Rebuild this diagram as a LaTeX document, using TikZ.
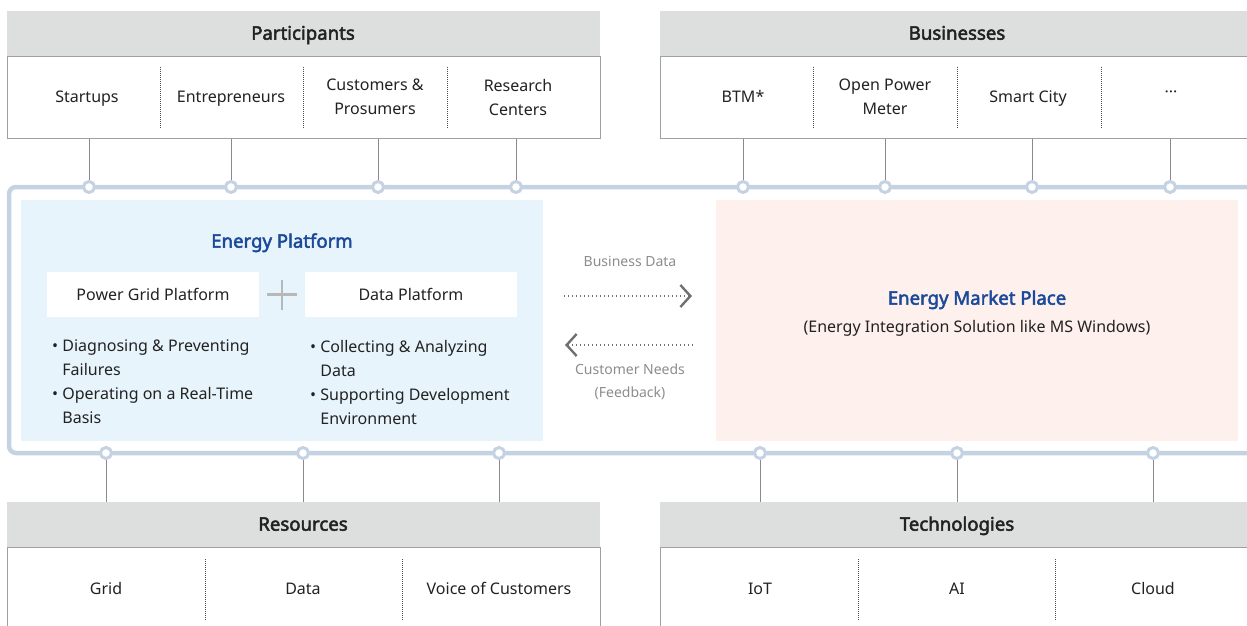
\documentclass[tikz,border=0pt]{standalone}
\usepackage{fontspec}
\setmainfont{Noto Sans}[AutoFakeBold=2.6]
\usetikzlibrary{arrows.meta}
\definecolor{hdr}{HTML}{DDDEDE}
\definecolor{bord}{HTML}{A0A0A0}
\definecolor{txt}{HTML}{222222}
\definecolor{ttl}{HTML}{1B4A9A}
\definecolor{eplight}{HTML}{E8F4FC}
\definecolor{mkpink}{HTML}{FEF0EC}
\definecolor{frm}{HTML}{C4D2E2}
\definecolor{conn}{HTML}{8A8A8A}
\definecolor{agray}{HTML}{707070}
\definecolor{lgray}{HTML}{8C8C8C}
\definecolor{plus}{HTML}{B8B8B8}
\tikzset{
  hdrbox/.style={fill=hdr, anchor=north west, inner sep=0pt},
  hdrtext/.style={text=txt, inner sep=0pt, text height=13.3pt, text depth=0pt,
    font=\fontsize{18.6}{22}\selectfont\bfseries},
  bodybox/.style={fill=white, draw=bord, line width=1pt, anchor=north west, inner sep=0pt},
  item/.style={text=txt, align=center, inner sep=0pt, font=\fontsize{16}{24}\selectfont},
  single/.style={text=txt, inner sep=0pt, text height=11.5pt, text depth=0pt,
    font=\fontsize{16}{24}\selectfont},
  divider/.style={draw=black!70, line width=0.6pt, dash pattern=on 0.8pt off 1.2pt},
  connline/.style={draw=conn, line width=1pt},
  frameline/.style={draw=frm, line width=4.5pt, rounded corners=7pt},
  ring/.style={circle, minimum size=11pt, inner sep=0pt, fill=white, draw=frm, line width=3pt},
  whitebox/.style={fill=white, anchor=north west, inner sep=0pt},
  bullets/.style={anchor=north west, align=left, inner sep=0pt, text=txt,
    font=\fontsize{16}{24}\selectfont},
  title/.style={text=ttl, inner sep=0pt, text height=13.3pt, text depth=0pt,
    font=\fontsize{18.6}{22}\selectfont\bfseries},
  graytext/.style={text=lgray, align=center, inner sep=0pt, font=\fontsize{14}{23}\selectfont},
  graysingle/.style={text=lgray, inner sep=0pt, text height=10pt, text depth=0pt,
    font=\fontsize{14}{23}\selectfont},
  dotarrow/.style={draw=agray, line width=1.6pt, dash pattern=on 1.4pt off 2.6pt,
    -{Straight Barb[length=10pt,width=22pt,line width=2.4pt]}},
}
\begin{document}
\begin{tikzpicture}[x=1pt,y=-1pt]
\useasboundingbox (0,0) rectangle (1247,626);
\clip (0,0) rectangle (1247,626);

% ---------- Participants ----------
\node[hdrbox, minimum width=593pt, minimum height=45pt] (phdr) at (7,11) {};
\node[hdrtext] (ptitle) at (303,33) {Participants};
\node[bodybox, minimum width=593pt, minimum height=82pt] (pbody) at (7,56) {};
\node[single] (startups) at (87,97) {Startups};
\node[single] (entre) at (231,97) {Entrepreneurs};
\node[item] (cust) at (375,97) {Customers \&\\Prosumers};
\node[item] (research) at (518,97) {Research\\Centers};
\draw[divider] (160,67) -- (160,128);
\draw[divider] (303,67) -- (303,128);
\draw[divider] (447,67) -- (447,128);

% ---------- Businesses ----------
\node[hdrbox, minimum width=620pt, minimum height=45pt] (bhdr) at (660,11) {};
\node[hdrtext] (btitle) at (957,33) {Businesses};
\node[bodybox, minimum width=620pt, minimum height=82pt] (bbody) at (660,56) {};
\node[single] (btm) at (743,97) {BTM*};
\node[item] (opm) at (885,97) {Open Power\\Meter};
\node[single] (smart) at (1028,97) {Smart City};
\node[item] (more) at (1171,94) {···};
\draw[divider] (813,67) -- (813,128);
\draw[divider] (957,67) -- (957,128);
\draw[divider] (1101,67) -- (1101,128);

% ---------- Resources ----------
\node[hdrbox, minimum width=593pt, minimum height=45pt] (rhdr) at (7,502) {};
\node[hdrtext] (rtitle) at (303,524) {Resources};
\node[bodybox, minimum width=593pt, minimum height=100pt] (rbody) at (7,547) {};
\node[single] (grid) at (106,589) {Grid};
\node[single] (data) at (303,589) {Data};
\node[single] (voc) at (499,589) {Voice of Customers};
\draw[divider] (205,559) -- (205,620);
\draw[divider] (402,559) -- (402,620);

% ---------- Technologies ----------
\node[hdrbox, minimum width=620pt, minimum height=45pt] (thdr) at (660,502) {};
\node[hdrtext] (ttitle) at (957,524) {Technologies};
\node[bodybox, minimum width=620pt, minimum height=100pt] (tbody) at (660,547) {};
\node[single] (iot) at (760,589) {IoT};
\node[single] (ai) at (957,589) {AI};
\node[single] (cloud) at (1153,589) {Cloud};
\draw[divider] (858,559) -- (858,620);
\draw[divider] (1055,559) -- (1055,620);

% ---------- Frame ----------
\coordinate (ftr) at (1300,187);
\coordinate (fbr) at (1300,453);
\draw[frameline] (ftr) -| (9,453) -- (fbr);

% ---------- Energy platform ----------
\node[fill=eplight, anchor=north west, inner sep=0pt, minimum width=522pt, minimum height=241pt] (ep) at (21,200) {};
\node[title] (eptitle) at (282,241) {Energy Platform};
\node[whitebox, minimum width=212pt, minimum height=45pt] (pgp) at (47,272) {};
\node[single] (pgpt) at (153,294.5) {Power Grid Platform};
\node[whitebox, minimum width=212pt, minimum height=45pt] (dp) at (305,272) {};
\node[single] (dpt) at (411,294.5) {Data Platform};
\node[inner sep=0pt, minimum size=1pt] (plusc) at (282,294.5) {};
\draw[draw=plus, line width=2.5pt] ([xshift=-15pt]plusc.center) -- ([xshift=15pt]plusc.center);
\draw[draw=plus, line width=2.5pt] ([yshift=15pt]plusc.center) -- ([yshift=-15pt]plusc.center);
\node[bullets] (lb) at (52,340) {• Diagnosing \& Preventing\\\phantom{• }Failures\\• Operating on a Real-Time\\\phantom{• }Basis};
\node[bullets] (rb) at (310,340) {• Collecting \& Analyzing\\\phantom{• }Data\\• Supporting Development\\\phantom{• }Environment};

% ---------- Market place ----------
\node[fill=mkpink, anchor=north west, inner sep=0pt, minimum width=522pt, minimum height=241pt] (mp) at (716,200) {};
\node[title] (mptitle) at (977,298) {Energy Market Place};
\node[single] (mpsub) at (977,327) {(Energy Integration Solution like MS Windows)};

% ---------- Arrows ----------
\node[graysingle] (bdata) at (630,261) {Business Data};
\coordinate (a1s) at (564,296);
\coordinate (a1e) at (692,296);
\draw[dotarrow] (a1s) -- (a1e);
\coordinate (a2s) at (693,345);
\coordinate (a2e) at (565,345);
\draw[dotarrow] (a2s) -- (a2e);
\node[graytext] (cneeds) at (630,381.5) {Customer Needs\\(Feedback)};

% ---------- Rings and connectors ----------
\foreach \n/\x in {p1/89,p2/231,p3/378,p4/516}{
  \node[ring] (\n) at (\x,187) {};
  \draw[connline] (pbody.south -| \n) -- (\n.north);
}
\foreach \n/\x in {b1/743,b2/885,b3/1032,b4/1170}{
  \node[ring] (\n) at (\x,187) {};
  \draw[connline] (bbody.south -| \n) -- (\n.north);
}
\foreach \n/\x in {r1/106,r2/303,r3/499}{
  \node[ring] (\n) at (\x,453) {};
  \draw[connline] (\n.south) -- (rhdr.north -| \n);
}
\foreach \n/\x in {t1/760,t2/957,t3/1153}{
  \node[ring] (\n) at (\x,453) {};
  \draw[connline] (\n.south) -- (thdr.north -| \n);
}
\end{tikzpicture}
\end{document}
